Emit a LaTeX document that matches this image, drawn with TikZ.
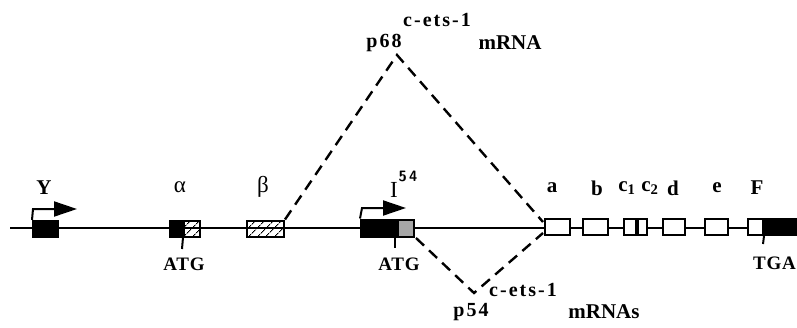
\documentclass[tikz,border=0pt]{standalone}
\usepackage{fontspec}
\setmainfont{Liberation Serif}
\usetikzlibrary{arrows.meta,patterns.meta}
\tikzset{
  exon/.style={draw=black,line width=2pt,fill=white},
  blk/.style={draw=black,line width=2pt,fill=black},
  hatch/.style={draw=black,line width=2pt,pattern={Lines[angle=45,distance=6.5pt,line width=1.1pt]}},
  grey/.style={draw=black,line width=2pt,fill=black!35},
  lbl/.style={font=\bfseries\fontsize{21}{21}\selectfont,inner sep=0pt},
  glbl/.style={font=\fontsize{23}{23}\selectfont,inner sep=0pt},
  slbl/.style={font=\bfseries\fontsize{19}{19}\selectfont\addfontfeature{LetterSpace=4},inner sep=0pt},
  mlbl/.style={font=\bfseries\fontsize{21}{21}\selectfont,inner sep=0pt},
  wlbl/.style={font=\bfseries\fontsize{20}{20}\selectfont\addfontfeature{LetterSpace=10},inner sep=0pt},
  dashline/.style={line width=2.4pt,dash pattern=on 11pt off 7pt},
  tss/.style={line width=2pt,-{Triangle[length=23pt,width=15pt]}},
  tickline/.style={line width=2pt}
}
\begin{document}
\begin{tikzpicture}[x=1pt,y=-1pt]
\useasboundingbox (0,0) rectangle (797,327);
% main line
\coordinate (L) at (10,228);
\coordinate (R) at (797,228);
\draw[line width=2.4pt] (L) -- (R);
% Y
\node[blk,minimum width=25pt,minimum height=16pt,inner sep=0pt] (Y) at (45.5,229) {};
\coordinate (Ytop) at (33,209);
\coordinate (Ytip) at (77,209);
\draw[tss] (Y.north west) -- (Ytop) -- (Ytip);
\node[lbl] (Yl) at (44,188) {Y};
% alpha
\node[blk,minimum width=12pt,minimum height=16pt,inner sep=0pt] (a1) at (176,228.5) {};
\node[hatch,minimum width=16pt,minimum height=16pt,inner sep=0pt,anchor=west] (a2) at (a1.east) {};
\coordinate (atgA) at (182,249);
\draw[tickline] (a1.south east) -- (atgA);
\node[slbl] (ATG1) at (184,264) {ATG};
\node[glbl] (al) at (180,187) {α};
% beta
\node[hatch,minimum width=37pt,minimum height=16pt,inner sep=0pt] (b) at (265.5,228.5) {};
\node[glbl] (bl) at (263,187) {β};
% I54
\node[blk,minimum width=35pt,minimum height=17pt,inner sep=0pt] (i1) at (378.5,228) {};
\node[grey,minimum width=16pt,minimum height=17pt,inner sep=0pt,anchor=west] (i2) at (i1.east) {};
\coordinate (Itop) at (362,208);
\coordinate (Itip) at (406,208);
\draw[tss] (i1.north west) -- (Itop) -- (Itip);
\coordinate (Itick0) at (395,237);
\coordinate (Itick1) at (395,248);
\draw[tickline] (Itick0) -- (Itick1);
\node[slbl] (ATG2) at (399,264) {ATG};
\node[font=\fontsize{23}{23}\selectfont,inner sep=0pt] (Il) at (394,190) {I};
\node[font=\sffamily\bfseries\fontsize{15}{15}\selectfont,inner sep=0pt] (Il2) at (408,176) {5\,4};
% right exons
\node[exon,minimum width=25pt,minimum height=16pt,inner sep=0pt] (ea) at (557,227) {};
\node[exon,minimum width=25pt,minimum height=16pt,inner sep=0pt] (eb) at (595,227) {};
\node[exon,minimum width=12pt,minimum height=16pt,inner sep=0pt] (ec1) at (630,227) {};
\node[exon,minimum width=9pt,minimum height=16pt,inner sep=0pt,anchor=west] (ec2) at (ec1.east) {};
\node[exon,minimum width=22pt,minimum height=16pt,inner sep=0pt] (ed) at (674,227) {};
\node[exon,minimum width=23pt,minimum height=16pt,inner sep=0pt] (ee) at (716.5,227) {};
\node[exon,minimum width=15pt,minimum height=16pt,inner sep=0pt] (ef1) at (755.5,227) {};
\node[blk,minimum width=40pt,minimum height=16pt,inner sep=0pt,anchor=west] (ef2) at (ef1.east) {};
\coordinate (Ftick) at (763,244);
\draw[tickline] (ef2.south west) -- (Ftick);
\node[slbl,anchor=east] (TGA) at (796,263) {TGA};
% exon labels
\node[lbl] (la) at (552,188) {a};
\node[lbl] (lb) at (597,188) {b};
\node[lbl] (lc1) at (627,188) {c\textsubscript{1}};
\node[lbl] (lc2) at (650,188) {c\textsubscript{2}};
\node[lbl] (ld) at (673,188) {d};
\node[lbl] (le) at (717,188) {e};
\node[lbl] (lF) at (757,188) {F};
% dashed splicing
\coordinate (top) at (397,55);
\coordinate (bot) at (474,293);
\coordinate (jr1) at (543,222);
\coordinate (jr2) at (543,233);
\coordinate (i2o) at (416,238);
\draw[dashline] (b.north east) -- (top) -- (jr1);
\draw[dashline] (i2o) -- (bot) -- (jr2);
% mRNA labels
\node[wlbl] (p68) at (384,43) {p68};
\node[wlbl] (ce1) at (437,20) {c-ets-1};
\node[mlbl] (m1) at (510,43) {mRNA};
\node[wlbl] (p54) at (471,312) {p54};
\node[wlbl] (ce2) at (523,290) {c-ets-1};
\node[mlbl] (m2) at (604,312) {mRNAs};
\end{tikzpicture}
\end{document}
